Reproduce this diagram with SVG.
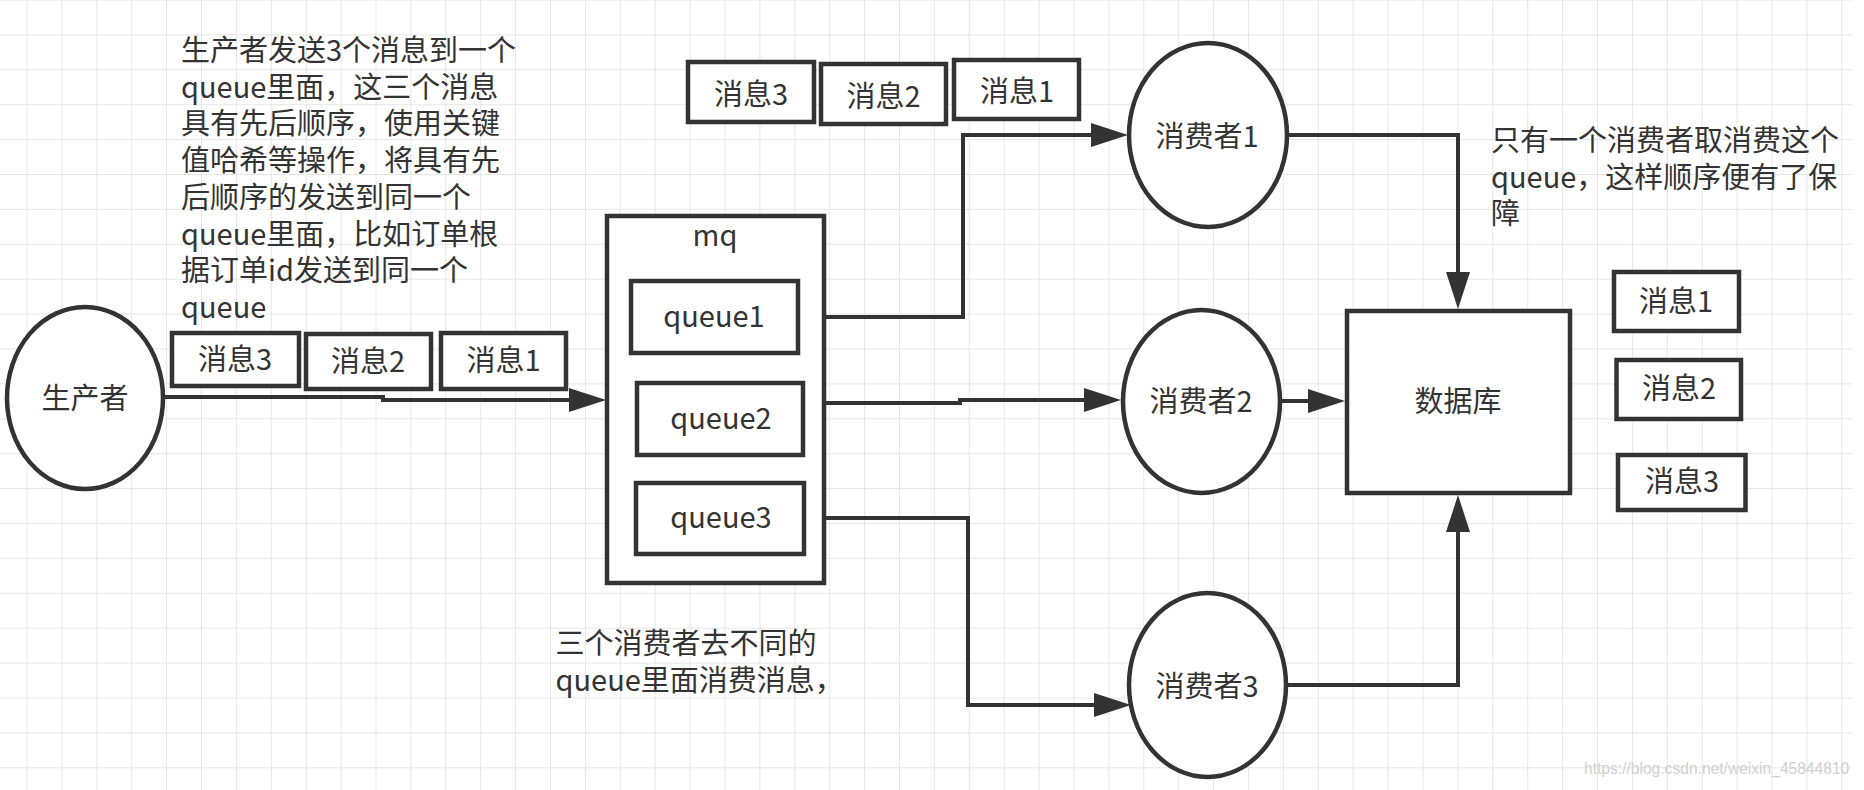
<svg xmlns="http://www.w3.org/2000/svg" width="1864" height="790" viewBox="0 0 1864 790">
<defs>
<pattern id="grid" patternUnits="userSpaceOnUse" x="26.5" y="34.4" width="34.9" height="34.9">
<path d="M0 0 H34.9 M0 0 V34.9" fill="none" stroke="#e6e6e6" stroke-width="2"/>
</pattern>
<marker id="arr" markerUnits="userSpaceOnUse" markerWidth="37" markerHeight="24" refX="0" refY="12" orient="auto" viewBox="0 0 37 24">
<path d="M0 0 L37 12 L0 24 Z" fill="#333"/>
</marker>
</defs>
<style>
.shape{fill:#fff;stroke:#333;stroke-width:4.5}
.lbl{font-family:"Noto Sans CJK SC","Liberation Sans",sans-serif;font-size:29px;fill:#333;text-anchor:middle}
.note{font-family:"Noto Sans CJK SC","Liberation Sans",sans-serif;font-size:29px;fill:#333}
.conn{fill:none;stroke:#333;stroke-width:4;marker-end:url(#arr)}
</style>
<rect x="0" y="0" width="1864" height="790" fill="#fff"/>
<rect x="0" y="0" width="1852" height="790" fill="url(#grid)"/>

<g id="note-producer">
<text class="note"><tspan x="181" y="61">生产者发送3个消息到一个</tspan><tspan x="181" y="97.7">queue里面，这三个消息</tspan><tspan x="181" y="134.4">具有先后顺序，使用关键</tspan><tspan x="181" y="171">值哈希等操作，将具有先</tspan><tspan x="181" y="207.8">后顺序的发送到同一个</tspan><tspan x="181" y="244.5">queue里面，比如订单根</tspan><tspan x="181" y="281">据订单id发送到同一个</tspan><tspan x="181" y="318">queue</tspan></text>
</g>
<g id="note-consumer">
<text class="note"><tspan x="1491" y="151">只有一个消费者取消费这个</tspan><tspan x="1491" y="188">queue，这样顺序便有了保</tspan><tspan x="1491" y="224">障</tspan></text>
</g>
<g id="note-queues">
<text class="note"><tspan x="555.5" y="654">三个消费者去不同的</tspan><tspan x="555.5" y="691">queue里面消费消息，</tspan></text>
</g>

<g id="connectors">
<path class="conn" d="M163 397 H383 V400 H569"/>
<path class="conn" d="M800 317 H963 V135 H1091"/>
<path class="conn" d="M806 403 H960 V400 H1084"/>
<path class="conn" d="M806 518 H968 V705 H1094"/>
<path class="conn" d="M1287 135 H1458 V272"/>
<path class="conn" d="M1280 401 H1308"/>
<path class="conn" d="M1286 685 H1458 V532"/>
</g>

<g id="producer">
<ellipse class="shape" cx="85" cy="398" rx="78" ry="91"/>
<text class="lbl" x="85" y="409">生产者</text>
</g>
<g id="msg-left-3"><rect class="shape" x="172" y="333" width="127" height="53"/><text class="lbl" x="235" y="370">消息3</text></g>
<g id="msg-left-2"><rect class="shape" x="306" y="334" width="125" height="55"/><text class="lbl" x="368" y="372">消息2</text></g>
<g id="msg-left-1"><rect class="shape" x="441" y="333" width="125" height="56"/><text class="lbl" x="503.5" y="371">消息1</text></g>

<g id="mq">
<rect class="shape" x="607" y="216" width="217" height="367"/>
<text class="lbl" x="715" y="246">mq</text>
</g>
<g id="queue1"><rect class="shape" x="631" y="281" width="167" height="72"/><text class="lbl" x="714" y="327">queue1</text></g>
<g id="queue2"><rect class="shape" x="637" y="383" width="166" height="72"/><text class="lbl" x="721" y="429">queue2</text></g>
<g id="queue3"><rect class="shape" x="636" y="483" width="168" height="71"/><text class="lbl" x="721" y="528">queue3</text></g>

<g id="msg-top-3"><rect class="shape" x="688" y="62" width="126" height="60"/><text class="lbl" x="751" y="105">消息3</text></g>
<g id="msg-top-2"><rect class="shape" x="821" y="64" width="125" height="60"/><text class="lbl" x="883.5" y="107">消息2</text></g>
<g id="msg-top-1"><rect class="shape" x="954" y="60" width="125" height="59"/><text class="lbl" x="1017" y="102">消息1</text></g>

<g id="consumer1"><ellipse class="shape" cx="1208" cy="135" rx="79" ry="92"/><text class="lbl" x="1207" y="147">消费者1</text></g>
<g id="consumer2"><ellipse class="shape" cx="1201.5" cy="401.5" rx="78.5" ry="91.5"/><text class="lbl" x="1201" y="412">消费者2</text></g>
<g id="consumer3"><ellipse class="shape" cx="1207.5" cy="685" rx="78.5" ry="92"/><text class="lbl" x="1207" y="697">消费者3</text></g>

<g id="database"><rect class="shape" x="1347" y="311" width="223" height="182"/><text class="lbl" x="1458" y="412">数据库</text></g>

<g id="msg-right-1"><rect class="shape" x="1614" y="272" width="125" height="59"/><text class="lbl" x="1676" y="312">消息1</text></g>
<g id="msg-right-2"><rect class="shape" x="1616.5" y="360" width="124.5" height="59"/><text class="lbl" x="1679" y="399">消息2</text></g>
<g id="msg-right-3"><rect class="shape" x="1618" y="455" width="127.5" height="55"/><text class="lbl" x="1682" y="492">消息3</text></g>

<text x="1584" y="774" font-family="Liberation Sans, sans-serif" font-size="15.6" fill="#d0d0d0">https://blog.csdn.net/weixin_45844810</text>
</svg>
